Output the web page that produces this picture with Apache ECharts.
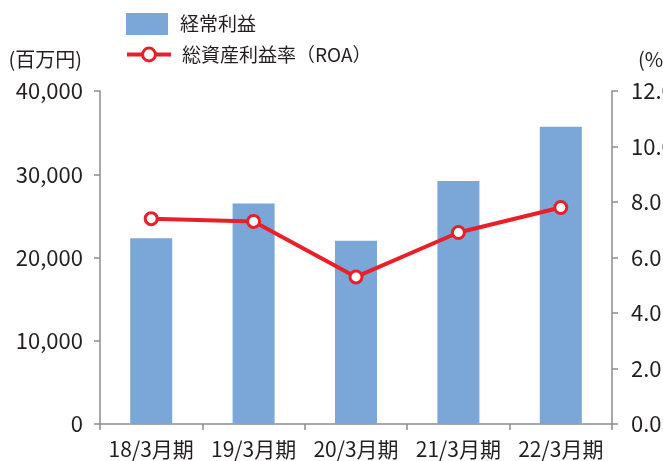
<!DOCTYPE html>
<html>
<head>
<meta charset="utf-8">
<script src="https://cdn.jsdelivr.net/npm/echarts@6/dist/echarts.min.js"></script>
<style>
html, body { margin: 0; padding: 0; background: #fff; }
#chart { width: 663px; height: 461px; }
</style>
</head>
<body>
<div id="chart"></div>
<script>
// 決算期
const categories = ['18/3月期', '19/3月期', '20/3月期', '21/3月期', '22/3月期']
// 経常利益（百万円）
const ordinaryProfit = [22300, 26500, 22000, 29200, 35700]
// 総資産利益率（%）
const roa = [7.4, 7.3, 5.3, 6.9, 7.8]

const fontFamily = '"Noto Sans CJK JP", "Noto Sans", sans-serif'
const textColor = '#231f20'
const axisColor = '#8c8c8c'
const barColor = '#7ba6d8'
const lineColor = '#e8202a'

const chart = echarts.init(document.getElementById('chart'))
const option = {
    animation: false,
    textStyle: { fontFamily: fontFamily, color: textColor },
    // 凡例は棒と折れ線でアイコンの大きさが違うので2つに分ける
    legend: [
        {
            left: 126,
            top: 13,
            padding: 0,
            icon: 'rect',
            itemWidth: 42,
            itemHeight: 22,
            textStyle: { fontSize: 19, color: textColor, fontFamily: fontFamily, padding: [0, 0, 0, 7] },
            data: ['経常利益']
        },
        {
            left: 125,
            top: 45,
            padding: 0,
            itemWidth: 44,
            itemHeight: 16,
            lineStyle: { width: 4 },
            itemStyle: { borderWidth: 3 },
            textStyle: { fontSize: 19, color: textColor, fontFamily: fontFamily, padding: [0, 0, 0, 6] },
            data: ['総資産利益率（ROA）']
        }
    ],
    grid: {
        left: 100,
        right: 51,
        top: 91,
        bottom: 37,
        containLabel: false,
        outerBoundsMode: 'none'
    },
    xAxis: {
        type: 'category',
        data: categories,
        axisLine: { lineStyle: { color: axisColor, width: 1.5 } },
        axisTick: { show: true, length: 6, lineStyle: { color: axisColor, width: 1.5 } },
        axisLabel: { color: textColor, fontSize: 21, margin: 15, interval: 0, hideOverlap: false }
    },
    yAxis: [
        {
            type: 'value',
            min: 0,
            max: 40000,
            interval: 10000,
            name: '(百万円)',
            nameLocation: 'end',
            nameGap: 22,
            nameTextStyle: { color: textColor, fontSize: 20, align: 'right', padding: [0, 18, 0, 0] },
            axisLine: { show: true, lineStyle: { color: axisColor, width: 1.5 } },
            axisTick: { show: true, length: 6, lineStyle: { color: axisColor, width: 1.5 } },
            splitLine: { show: false },
            axisLabel: {
                color: textColor,
                fontSize: 22,
                margin: 17,
                formatter: (v) => v.toLocaleString('en-US')
            }
        },
        {
            type: 'value',
            min: 0,
            max: 12,
            interval: 2,
            name: '(%)',
            nameLocation: 'end',
            nameGap: 22,
            nameTextStyle: { color: textColor, fontSize: 20, align: 'left', padding: [0, 0, 0, 26] },
            axisLine: { show: true, lineStyle: { color: axisColor, width: 1.5 } },
            axisTick: { show: true, length: 6, lineStyle: { color: axisColor, width: 1.5 } },
            splitLine: { show: false },
            axisLabel: {
                color: textColor,
                fontSize: 22,
                margin: 19,
                formatter: (v) => v.toFixed(1)
            }
        }
    ],
    series: [
        {
            name: '経常利益',
            type: 'bar',
            data: ordinaryProfit,
            barWidth: 42,
            itemStyle: { color: barColor }
        },
        {
            name: '総資産利益率（ROA）',
            type: 'line',
            yAxisIndex: 1,
            data: roa,
            symbol: 'circle',
            symbolSize: 12,
            lineStyle: { color: lineColor, width: 4 },
            itemStyle: { color: '#ffffff', borderColor: lineColor, borderWidth: 3 }
        }
    ]
}
chart.setOption(option)
</script>
</body>
</html>
